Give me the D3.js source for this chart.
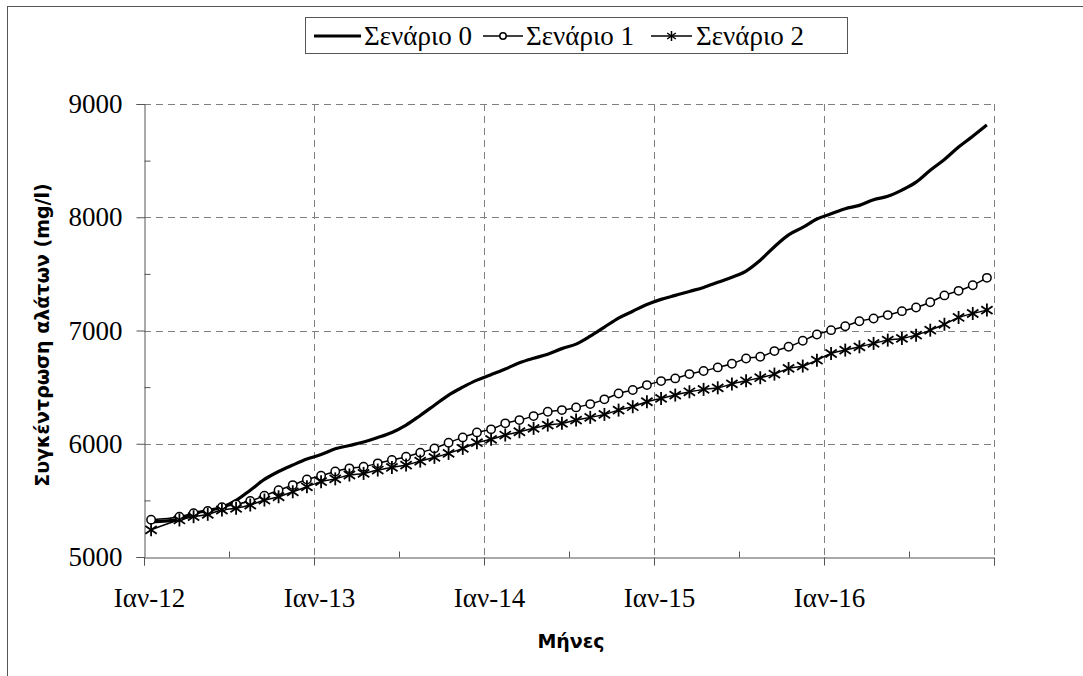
<!DOCTYPE html>
<html lang="el">
<head>
<meta charset="utf-8">
<title>Συγκέντρωση αλάτων</title>
<script src="https://d3js.org/d3.v7.min.js"></script>
<style>
  body { margin: 0; background: white; }
  svg { display: block; background: white; }
</style>
</head>
<body>
<script>
// monthly values, Jan-12 .. Dec-16 (index 1 = Feb-12 missing)
const yearLabels = ["Ιαν-12", "Ιαν-13", "Ιαν-14", "Ιαν-15", "Ιαν-16"];
const seriesNames = ["Σενάριο 0", "Σενάριο 1", "Σενάριο 2"];

const scenario0 = [5310, null, 5330, 5385, 5410, 5440, 5500, 5590, 5685, 5755, 5812, 5865,
  5905, 5955, 5985, 6015, 6055, 6100, 6165, 6250, 6340, 6430, 6500, 6562,
  6610, 6660, 6715, 6755, 6790, 6840, 6880, 6950, 7030, 7110, 7170, 7230,
  7275, 7310, 7345, 7380, 7425, 7470, 7525, 7620, 7740, 7845, 7910, 7985,
  8030, 8075, 8105, 8155, 8185, 8240, 8310, 8415, 8510, 8620, 8715, 8815];

const scenario1 = [5330, null, 5355, 5386, 5406, 5440, 5465, 5494, 5541, 5590, 5635, 5685,
  5717, 5755, 5783, 5797, 5827, 5856, 5885, 5921, 5959, 6009, 6056, 6100,
  6127, 6180, 6209, 6244, 6283, 6297, 6321, 6350, 6392, 6444, 6474, 6518,
  6553, 6577, 6615, 6642, 6674, 6706, 6753, 6768, 6818, 6856, 6909, 6965,
  7003, 7038, 7082, 7106, 7136, 7171, 7203, 7250, 7310, 7350, 7400, 7465];

const scenario2 = [5240, null, 5327, 5356, 5377, 5415, 5430, 5459, 5503, 5532, 5576, 5620,
  5665, 5690, 5724, 5738, 5768, 5791, 5812, 5847, 5880, 5915, 5959, 6009,
  6039, 6077, 6106, 6136, 6165, 6180, 6209, 6233, 6259, 6297, 6327, 6371,
  6400, 6430, 6459, 6480, 6494, 6528, 6556, 6583, 6615, 6665, 6686, 6738,
  6797, 6827, 6856, 6886, 6915, 6930, 6959, 7003, 7055, 7115, 7150, 7180];

const yTicks = [5000, 6000, 7000, 8000, 9000];

// Greek glyphs fall back to DejaVu Serif
const serif = "'Liberation Serif', 'DejaVu Serif Condensed', 'DejaVu Serif', serif";
const sans = "Tahoma, 'DejaVu Sans', sans-serif";

const w = 1083, h = 676;
const svg = d3.select("body").append("svg").attr("width", w).attr("height", h);

// outer chart frame (runs off the right and bottom)
svg.append("rect").attr("x", 7.5).attr("y", 6.5).attr("width", w + 10).attr("height", h + 10)
  .attr("fill", "none").attr("stroke", "#555").attr("stroke-width", 1);

const x = d3.scaleLinear().domain([0, 60]).range([144, 994]);
const y = d3.scaleLinear().domain([5000, 9000]).range([557, 104]);

// grid
const grid = svg.append("g").attr("stroke", "#808080").attr("stroke-dasharray", "7,5").attr("stroke-width", 1);
grid.selectAll("line.h").data(yTicks.slice(1)).enter().append("line")
  .attr("x1", x(0)).attr("x2", x(60))
  .attr("y1", d => Math.round(y(d)) + 0.5).attr("y2", d => Math.round(y(d)) + 0.5);
grid.selectAll("line.v").data([12, 24, 36, 48, 60]).enter().append("line")
  .attr("y1", y(9000)).attr("y2", y(5000))
  .attr("x1", d => Math.round(x(d)) + 0.5).attr("x2", d => Math.round(x(d)) + 0.5);

// axes
const yAxis = svg.append("g").attr("transform", "translate(144.5,0)")
  .call(d3.axisLeft(y).tickValues(yTicks).tickSize(8).tickPadding(14).tickFormat(d3.format("d")));
const yMinor = svg.append("g").attr("transform", "translate(144.5,0)")
  .call(d3.axisLeft(y).tickValues([5500, 6500, 7500, 8500]).tickSize(-6).tickFormat(""));

const xAxis = svg.append("g").attr("transform", "translate(0,557.5)")
  .call(d3.axisBottom(x).tickValues([0, 12, 24, 36, 48, 60]).tickSize(8).tickPadding(22)
    .tickFormat(d => yearLabels[d / 12] || ""));
const xMinor = svg.append("g").attr("transform", "translate(0,557.5)")
  .call(d3.axisBottom(x).tickValues([6, 18, 30, 42, 54]).tickSize(-6).tickFormat(""));

[yAxis, yMinor, xAxis, xMinor].forEach(g => {
  g.attr("font-family", serif).attr("font-size", 27);
  g.select(".domain").attr("stroke", "#555");
  g.selectAll(".tick line").attr("stroke", "#555");
  g.selectAll(".tick text").style("font-family", serif).attr("font-size", 27).attr("fill", "#000");
});
yMinor.select(".domain").remove();
xMinor.select(".domain").remove();
xAxis.selectAll(".tick text").attr("dx", 5);

// axis titles
svg.append("text").style("font-family", sans).attr("font-weight", "bold").attr("font-size", 19)
  .attr("transform", "translate(49,335) rotate(-90)").attr("text-anchor", "middle")
  .text("Συγκέντρωση αλάτων (mg/l)");
svg.append("text").style("font-family", sans).attr("font-weight", "bold").attr("font-size", 19)
  .attr("x", 571).attr("y", 648).attr("text-anchor", "middle").text("Μήνες");

// series
const pts = arr => arr.map((v, i) => ({ i: i, v: v })).filter(d => d.v !== null);
const line = d3.line().x(d => x(d.i + 0.5)).y(d => y(d.v)).curve(d3.curveMonotoneX);

svg.append("path").datum(pts(scenario0)).attr("d", line)
  .attr("fill", "none").attr("stroke", "#000").attr("stroke-width", 3.2).attr("stroke-linejoin", "round");

svg.append("path").datum(pts(scenario1)).attr("d", line)
  .attr("fill", "none").attr("stroke", "#000").attr("stroke-width", 1.5);
svg.append("path").datum(pts(scenario2)).attr("d", line)
  .attr("fill", "none").attr("stroke", "#000").attr("stroke-width", 1.5);

function star(g, s) {
  g.append("line").attr("x1", 0).attr("x2", 0).attr("y1", -s).attr("y2", s);
  g.append("line").attr("x1", -s * 0.87).attr("x2", s * 0.87).attr("y1", -s * 0.6).attr("y2", s * 0.6);
  g.append("line").attr("x1", -s * 0.87).attr("x2", s * 0.87).attr("y1", s * 0.6).attr("y2", -s * 0.6);
}

svg.append("g").selectAll("circle").data(pts(scenario1)).enter().append("circle")
  .attr("cx", d => x(d.i + 0.5)).attr("cy", d => y(d.v)).attr("r", 4.2)
  .attr("fill", "white").attr("stroke", "#000").attr("stroke-width", 1.5);

svg.append("g").selectAll("g").data(pts(scenario2)).enter().append("g")
  .attr("transform", d => `translate(${x(d.i + 0.5)},${y(d.v)})`)
  .attr("stroke", "#000").attr("stroke-width", 1.8)
  .each(function () { star(d3.select(this), 6.5); });

// legend
const lg = svg.append("g");
lg.append("rect").attr("x", 305.5).attr("y", 17.5).attr("width", 542).attr("height", 36)
  .attr("fill", "white").attr("stroke", "#555");
const items = [
  { x0: 314, x1: 361, tx: 364 },
  { x0: 483, x1: 523, tx: 526 },
  { x0: 651, x1: 692, tx: 696 }
];
items.forEach((it, k) => {
  const ly = 36;
  lg.append("line").attr("x1", it.x0).attr("x2", it.x1).attr("y1", ly).attr("y2", ly)
    .attr("stroke", "#000").attr("stroke-width", k === 0 ? 3 : 1.5);
  const cx = (it.x0 + it.x1) / 2;
  if (k === 1) lg.append("circle").attr("cx", cx).attr("cy", ly).attr("r", 3.2)
    .attr("fill", "white").attr("stroke", "#000").attr("stroke-width", 1.5);
  if (k === 2) { const g = lg.append("g").attr("transform", `translate(${cx},${ly})`).attr("stroke", "#000").attr("stroke-width", 1.5); star(g, 5); }
  lg.append("text").style("font-family", serif).attr("font-size", 27).attr("x", it.tx).attr("y", 45)
    .text(seriesNames[k]);
});
</script>
</body>
</html>
